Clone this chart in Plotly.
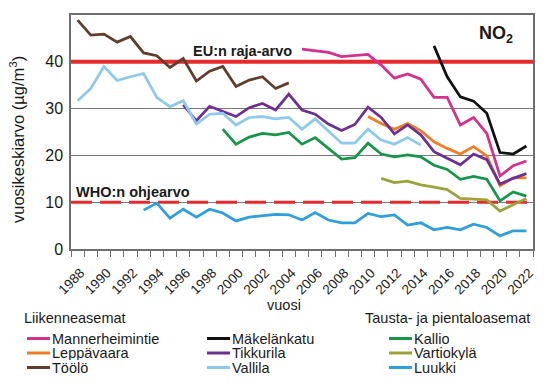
import plotly.graph_objects as go

years = list(range(1988, 2023))

def span(start, vals):
    out = [None] * len(years)
    for i, v in enumerate(vals):
        out[start - 1988 + i] = v
    return out

mannerheimintie = span(2005, [42.7, 42.3, 42.0, 41.1, 41.3, 41.6, 39.3, 36.5, 37.4, 36.3,
                              32.4, 32.4, 26.5, 28.1, 24.7, 15.6, 17.8, 18.8])
makelankatu = span(2015, [43.4, 36.8, 32.5, 31.6, 29.0, 20.6, 20.3, 22.0])
kallio = span(1999, [25.6, 22.4, 23.9, 24.7, 24.4, 24.9, 22.4, 23.8, 21.5, 19.2, 19.5, 22.6,
                     20.3, 19.7, 20.1, 19.7, 17.9, 17.0, 14.9, 15.5, 14.9, 10.3, 12.2, 11.3])
leppavaara = span(2010, [28.3, 26.8, 25.6, 26.8, 25.3, 22.9, 21.5, 20.3, 21.9, 19.9,
                         13.5, 15.2, 15.2])
tikkurila = span(1996, [30.8, 27.4, 30.5, 29.4, 28.3, 30.2, 31.1, 29.7, 33.1, 29.7, 28.8,
                        26.7, 25.3, 26.6, 30.3, 28.1, 24.6, 26.5, 24.4, 20.8, 19.4, 18.0,
                        20.3, 19.1, 13.9, 15.1, 16.1])
vartiokyla = span(2011, [15.1, 14.2, 14.5, 13.7, 13.2, 12.7, 10.8, 10.7, 10.5, 8.1, 9.4, 10.8])
toolo = span(1988, [48.9, 45.7, 45.9, 44.2, 45.4, 41.9, 41.3, 38.8, 40.7, 35.9, 38.0, 39.0,
                    34.7, 36.1, 36.8, 34.3, 35.5])
vallila = span(1988, [31.7, 34.3, 39.0, 36.0, 36.8, 37.5, 32.4, 30.4, 31.7, 26.7, 28.8, 29.0,
                      26.5, 28.1, 28.3, 27.8, 28.1, 25.6, 27.8, 25.3, 22.6, 22.6, 25.6, 23.3,
                      22.4, 23.8, 22.2])
luukki = span(1993, [8.3, 9.8, 6.6, 8.5, 6.8, 8.5, 7.7, 6.0, 6.8, 7.1, 7.4, 7.3, 6.2, 7.8,
                     6.2, 5.6, 5.6, 7.6, 6.9, 7.3, 5.1, 5.6, 4.1, 4.6, 4.1, 5.3, 4.6, 2.8,
                     3.9, 3.9])

EU_LIMIT = 40
WHO_GUIDE = 10

series_names = ["Mannerheimintie", "Mäkelänkatu", "Kallio",
                "Leppävaara", "Tikkurila", "Vartiokylä",
                "Töölö", "Vallila", "Luukki"]
series_values = [mannerheimintie, makelankatu, kallio,
                 leppavaara, tikkurila, vartiokyla,
                 toolo, vallila, luukki]
series_colors = ["#d4308e", "#111111", "#17964a",
                 "#ef7d22", "#6d2f92", "#9ea23a",
                 "#613d2b", "#8ec8ec", "#2c9fdc"]

group_titles = ["Liikenneasemat", "Tausta- ja pientaloasemat"]

FONT = "Arial, Liberation Sans, sans-serif"
TXT = "#1a1a1a"
RED = "#e52b2e"

# the page body adds an 8px offset; size and place the figure to compensate
OFF = 8
W, H = 559 - OFF, 392 - OFF
L, R, T, B = 71 - OFF, 26, 15 - OFF, 143
PW, PH = W - L - R, H - T - B

def px(x):
    # screen x (reference pixels) -> paper x
    return (x - OFF - L) / PW

def py(y):
    # screen y (reference pixels) -> paper y
    return (H - B - (y - OFF)) / PH

X_RANGE = [years[0] - 0.5, years[-1] + 0.5]

fig = go.Figure()
fig.add_trace(go.Scatter(x=X_RANGE, y=[EU_LIMIT, EU_LIMIT], mode="lines",
                         line=dict(color=RED, width=4), showlegend=False, hoverinfo="skip"))
fig.add_trace(go.Scatter(x=X_RANGE, y=[WHO_GUIDE, WHO_GUIDE], mode="lines",
                         line=dict(color=RED, width=3, dash="21px,8px"),
                         showlegend=False, hoverinfo="skip"))
for name, vals, col in zip(series_names, series_values, series_colors):
    fig.add_trace(go.Scatter(x=years, y=vals, mode="lines", name=name,
                             line=dict(color=col, width=2.75),
                             connectgaps=False, showlegend=False))

shapes = []
annotations = [
    dict(text="<b>EU:n raja-arvo</b>", xref="paper", yref="paper", x=px(191), y=py(51),
         xanchor="left", yanchor="middle", showarrow=False, font=dict(size=14.5, color=TXT)),
    dict(text="<b>WHO:n ohjearvo</b>", xref="paper", yref="paper", x=px(74), y=py(192),
         xanchor="left", yanchor="middle", showarrow=False, font=dict(size=14.5, color=TXT)),
    dict(text="<b>NO<sub>2</sub></b>", xref="paper", yref="paper", x=px(477), y=py(34),
         xanchor="left", yanchor="middle", showarrow=False, font=dict(size=18, color=TXT)),
    dict(text="vuosikeskiarvo (µg/m<sup>3</sup>)", xref="paper", yref="paper",
         x=px(17), y=py(140), xanchor="center", yanchor="middle", textangle=-90,
         showarrow=False, font=dict(size=16.5, color=TXT)),
    dict(text="vuosi", xref="paper", yref="paper", x=px(284), y=py(305),
         xanchor="center", yanchor="middle", showarrow=False, font=dict(size=14.5, color=TXT)),
    dict(text=group_titles[0], xref="paper", yref="paper", x=px(22), y=py(318),
         xanchor="left", yanchor="middle", showarrow=False, font=dict(size=14.5, color=TXT)),
    dict(text=group_titles[1], xref="paper", yref="paper", x=px(363), y=py(318),
         xanchor="left", yanchor="middle", showarrow=False, font=dict(size=14.5, color=TXT)),
]

col_x = [27, 207, 389]
row_y = [338.5, 353, 367.5]
for i, (name, col) in enumerate(zip(series_names, series_colors)):
    cx = col_x[i % 3]
    ry = row_y[i // 3]
    shapes.append(dict(type="line", xref="paper", yref="paper", x0=px(cx), x1=px(cx + 23),
                       y0=py(ry), y1=py(ry), line=dict(color=col, width=3)))
    annotations.append(dict(text=name, xref="paper", yref="paper", x=px(cx + 23.5), y=py(ry),
                            xanchor="left", yanchor="middle", showarrow=False,
                            height=14, valign="middle", borderpad=0,
                            font=dict(size=14.5, color=TXT)))

fig.update_layout(
    width=W, height=H,
    margin=dict(l=L, r=R, t=T, b=B, pad=0, autoexpand=False),
    paper_bgcolor="white", plot_bgcolor="white",
    font=dict(family=FONT, color=TXT),
    showlegend=False,
    shapes=shapes,
    annotations=annotations,
    xaxis=dict(
        range=X_RANGE, tickmode="linear", tick0=1988, dtick=2, automargin=False,
        tickangle=-45, tickfont=dict(size=13.5, color=TXT),
        ticks="outside", ticklen=6, tickcolor="rgba(0,0,0,0)",
        ticklabelstandoff=3, ticklabelshift=3,
        showgrid=False, zeroline=False,
        showline=True, linecolor="#6f6f6f", linewidth=1.5, mirror=True,
        minor=dict(ticks="outside", tick0=1987.5, dtick=1, ticklen=6,
                   tickcolor="#6f6f6f", tickwidth=1.2, showgrid=False),
    ),
    yaxis=dict(
        range=[0, 50], tickmode="linear", tick0=0, dtick=10, automargin=False,
        tickfont=dict(size=16, color=TXT), ticks="", ticklabelstandoff=3,
        showgrid=True, gridcolor="#7a7a7a", gridwidth=1, zeroline=False,
        showline=True, linecolor="#6f6f6f", linewidth=1.5, mirror=True,
    ),
)

fig.write_html("out.html")
